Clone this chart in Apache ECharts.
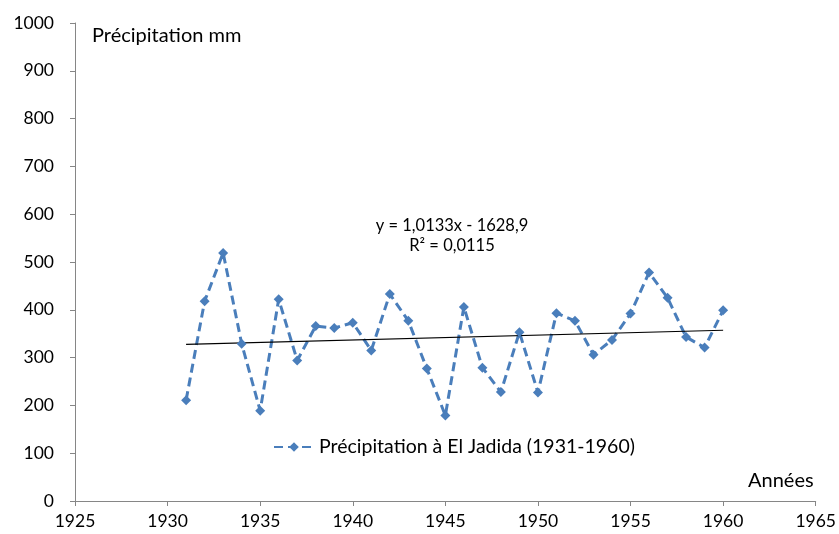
<!DOCTYPE html>
<html><head><meta charset="utf-8">
<script src="https://cdn.jsdelivr.net/npm/echarts@6/dist/echarts.min.js"></script>
<style>html,body{margin:0;padding:0;background:#fff}#c{width:839px;height:534px}</style>
</head><body><div id="c"></div>
<script>
const years = [1931,1932,1933,1934,1935,1936,1937,1938,1939,1940,1941,1942,1943,1944,1945,1946,1947,1948,1949,1950,1951,1952,1953,1954,1955,1956,1957,1958,1959,1960];
const precip = [211,418,519,329,189,422,294,366,362,373,315,433,377,277,179,406,279,228,353,227,393,377,306,337,392,478,425,343,321,399];
const trendSlope = 1.0133, trendIntercept = -1628.9;
const trendYears = [1931, 1960];
const seriesName = 'Précipitation à El Jadida (1931-1960)';
const xTicks = {min:1925, max:1965, interval:5};
const yTicks = {min:0, max:1000, interval:100};

const font = 'Lato, "Open Sans", sans-serif';
const chart = echarts.init(document.getElementById('c'));
chart.setOption({
  animation:false,
  grid:{left:75, right:23, top:23, bottom:33},
  xAxis:{type:'value', min:xTicks.min, max:xTicks.max, interval:xTicks.interval,
    axisLine:{lineStyle:{color:'#868686'}}, axisTick:{show:true, length:5, lineStyle:{color:'#868686'}},
    splitLine:{show:false},
    axisLabel:{color:'#000', fontSize:17.5, fontFamily:font, margin:11, formatter:v=>String(v)}},
  yAxis:{type:'value', min:yTicks.min, max:yTicks.max, interval:yTicks.interval,
    axisLine:{show:true, lineStyle:{color:'#868686'}}, axisTick:{show:true, length:5, lineStyle:{color:'#868686'}},
    splitLine:{show:false},
    axisLabel:{color:'#000', fontSize:17.5, fontFamily:font, margin:21, formatter:v=>String(v)}},
  legend:{data:[seriesName], left:268, top:432, itemWidth:40, itemHeight:12, itemGap:4,
    textStyle:{fontSize:19.5, fontFamily:font, color:'#000'}},
  series:[
    {name:seriesName, type:'line', data:years.map((y,i)=>[y,precip[i]]),
     symbol:'diamond', symbolSize:10, color:'#4A7EBB',
     lineStyle:{width:3, type:[9,5], color:'#4A7EBB'}, itemStyle:{color:'#4A7EBB'}},
    {name:'trend', type:'line', data:trendYears.map(y=>[y, trendSlope*y+trendIntercept]),
     symbol:'none', lineStyle:{width:1.2, color:'#000'}, silent:true}
  ],
  graphic:[
    {type:'text', left:92, top:26, style:{text:'Précipitation mm', fontSize:20, fontFamily:font, fill:'#000'}},
    {type:'text', left:748, top:471, style:{text:'Années', fontSize:20, fontFamily:font, fill:'#000'}},
    {type:'text', x:452, y:217, style:{text:'y = 1,0133x - 1628,9', fontSize:16.5, fontFamily:font, fill:'#000', align:'center'}},
    {type:'text', x:452, y:237, style:{text:'R² = 0,0115', fontSize:16.5, fontFamily:font, fill:'#000', align:'center'}}
  ]
});
</script></body></html>
